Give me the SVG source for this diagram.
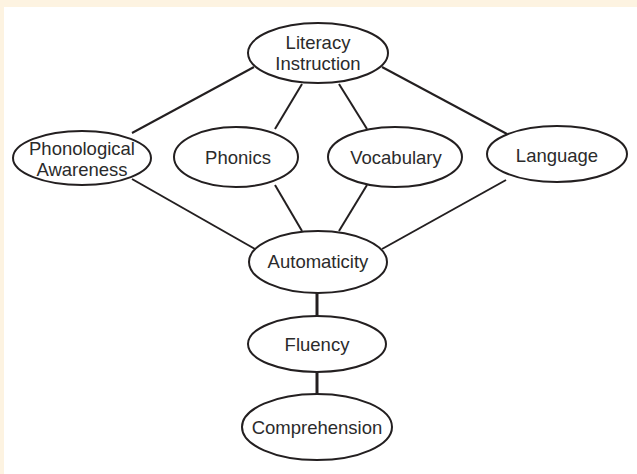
<svg xmlns="http://www.w3.org/2000/svg" width="637" height="474" viewBox="0 0 637 474">
<style>
.node ellipse{fill:#fff;stroke:#231f20;stroke-width:2}
.node text{font-family:"Liberation Sans",Arial,sans-serif;font-size:18.5px;fill:#2b2b2b;text-anchor:middle}
.edge{stroke:#231f20;stroke-width:2;fill:none}
.thick{stroke-width:3}
</style>
<rect x="0" y="0" width="637" height="474" fill="#fdf3e1"/>
<rect x="4" y="7" width="633" height="467" fill="#ffffff"/>
<g id="connectors">
<line class="edge" x1="254" y1="67" x2="132" y2="133"/>
<line class="edge" x1="302" y1="84" x2="275" y2="129"/>
<line class="edge" x1="339" y1="84" x2="367" y2="129"/>
<line class="edge" x1="382" y1="67" x2="507" y2="134"/>
<line class="edge" x1="132" y1="179" x2="255" y2="249"/>
<line class="edge" x1="275" y1="185" x2="302" y2="231"/>
<line class="edge" x1="367" y1="185" x2="339" y2="231"/>
<line class="edge" x1="506" y1="180" x2="382" y2="249"/>
<line class="edge thick" x1="317" y1="292" x2="317" y2="317"/>
<line class="edge thick" x1="317" y1="372" x2="317" y2="394"/>
</g>
<g id="literacy" class="node"><ellipse cx="318" cy="53" rx="70" ry="30"/><text x="318" y="49">Literacy</text><text x="318" y="70">Instruction</text></g>
<g id="phonological" class="node"><ellipse cx="82" cy="158" rx="69" ry="27"/><text x="82" y="155">Phonological</text><text x="82" y="176">Awareness</text></g>
<g id="phonics" class="node"><ellipse cx="236" cy="157" rx="62" ry="30"/><text x="238" y="164">Phonics</text></g>
<g id="vocabulary" class="node"><ellipse cx="395" cy="157" rx="67" ry="30"/><text x="396" y="164">Vocabulary</text></g>
<g id="language" class="node"><ellipse cx="557" cy="154" rx="70" ry="28"/><text x="557" y="162">Language</text></g>
<g id="automaticity" class="node"><ellipse cx="318" cy="262" rx="69" ry="31"/><text x="318" y="268">Automaticity</text></g>
<g id="fluency" class="node"><ellipse cx="317" cy="344" rx="69" ry="28"/><text x="317" y="351">Fluency</text></g>
<g id="comprehension" class="node"><ellipse cx="317" cy="427" rx="75" ry="33"/><text x="317" y="434">Comprehension</text></g>
</svg>
